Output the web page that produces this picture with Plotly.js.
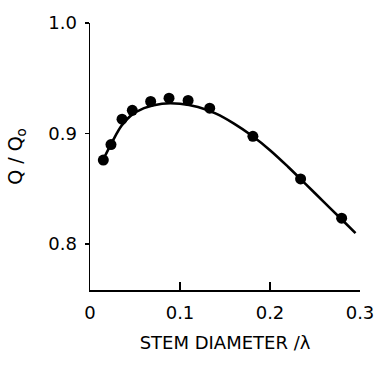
<!DOCTYPE html>
<html>
<head>
<meta charset="utf-8">
<script src="https://cdn.plot.ly/plotly-3.0.1.min.js"></script>
<style>html,body{margin:0;padding:0;background:#fff;}#chart{width:387px;height:372px;}</style>
</head>
<body>
<div id="chart"></div>
<script>
// Measured points
const pointX = [0.0148, 0.0233, 0.0356, 0.047, 0.0674, 0.0878, 0.109, 0.133, 0.181, 0.234, 0.2796];
const pointY = [0.876, 0.890, 0.913, 0.921, 0.929, 0.932, 0.930, 0.923, 0.8975, 0.859, 0.8235];
// Fitted curve
const curveX = [0.015, 0.025, 0.035, 0.045, 0.06, 0.08, 0.1, 0.12, 0.14, 0.16, 0.18, 0.2, 0.22, 0.24, 0.26, 0.28, 0.295];
const curveY = [0.877, 0.893, 0.907, 0.916, 0.923, 0.927, 0.927, 0.924, 0.918, 0.909, 0.898, 0.885, 0.870, 0.854, 0.838, 0.822, 0.810];
// Tick labels
const xTickVals = [0, 0.1, 0.2, 0.3];
const xTickText = ["0", "0.1", "0.2", "0.3"];
const yTickVals = [0.8, 0.9, 1.0];
const yTickText = ["0.8", "0.9", "1.0"];

const font = "DejaVu Sans, Liberation Sans, sans-serif";
const traces = [
  {x: curveX, y: curveY, mode: "lines", line: {color: "#000", width: 2.6, shape: "spline", smoothing: 1}, hoverinfo: "skip", showlegend: false},
  {x: pointX, y: pointY, mode: "markers", marker: {color: "#000", size: 11}, showlegend: false}
];
const layout = {
  width: 387, height: 372,
  margin: {l: 90, r: 27, t: 23, b: 82},
  paper_bgcolor: "#fff", plot_bgcolor: "#fff",
  font: {family: font, color: "#000", size: 18},
  showlegend: false,
  xaxis: {
    range: [0, 0.3], tickvals: xTickVals, ticktext: xTickText,
    ticks: "inside", ticklen: 8, tickwidth: 1.5, tickcolor: "#000",
    showline: true, linecolor: "#000", linewidth: 1.5, showgrid: false, zeroline: false,
    tickfont: {size: 18, family: font}, ticklabelstandoff: 6,
    title: {text: "STEM DIAMETER /\u03BB", font: {size: 18, family: font}, standoff: 14}
  },
  yaxis: {
    range: [0.7585, 1.0], tickvals: yTickVals, ticktext: yTickText,
    ticks: "outside", ticklen: 4, tickwidth: 1.5, tickcolor: "#000",
    showline: true, linecolor: "#000", linewidth: 1.5, showgrid: false, zeroline: false,
    tickfont: {size: 18, family: font}, ticklabelstandoff: 4,
    title: {text: "Q / Q<sub>o</sub>", font: {size: 19, family: font}, standoff: 20}
  }
};
Plotly.newPlot("chart", traces, layout, {displayModeBar: false, staticPlot: true});
</script>
</body>
</html>
